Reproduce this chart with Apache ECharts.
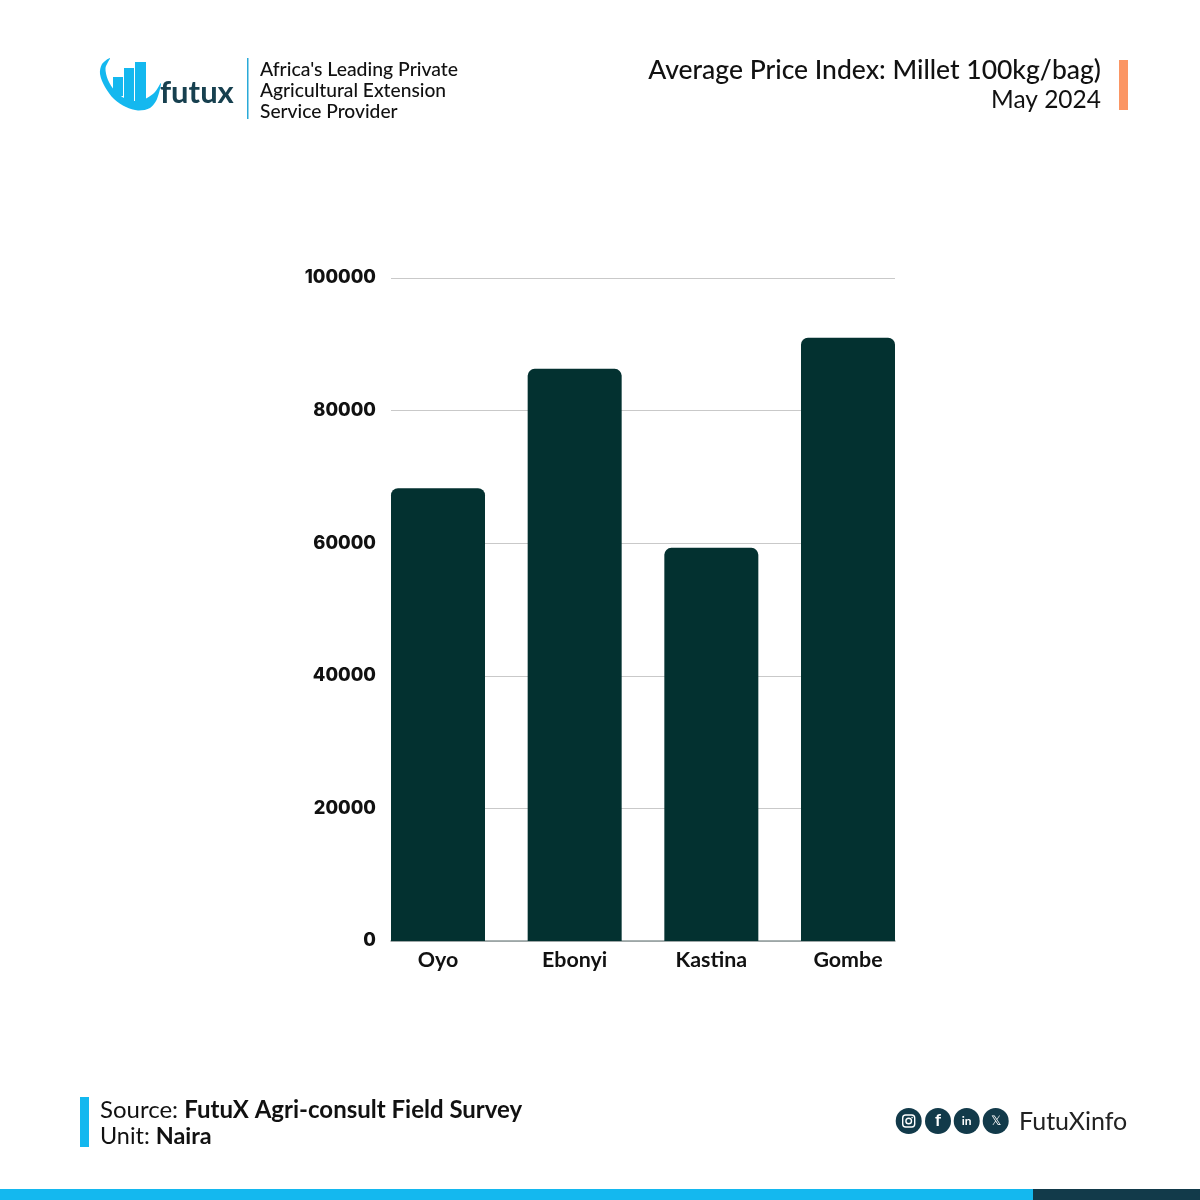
<!DOCTYPE html>
<html>
<head>
<meta charset="utf-8">
<style>html,body{margin:0;padding:0;background:#fff}#chart{width:1200px;height:1200px}</style>
<script src="https://cdn.jsdelivr.net/npm/echarts@6/dist/echarts.min.js"></script>
</head>
<body>
<div id="chart"></div>
<script>
// Average millet price per 100kg bag by state, May 2024 (Naira)
const states = ['Oyo', 'Ebonyi', 'Kastina', 'Gombe'];
const prices = [68300, 86300, 59300, 91000];
const axisMax = 100000;
const axisStep = 20000;

const FONT = 'Lato, "Open Sans", sans-serif';
const INK = '#111111';
const TEAL = '#033130';
const NAVY = '#123a4a';
const SKY = '#14b8ef';

const chart = echarts.init(document.getElementById('chart'), null, {renderer: 'canvas'});

function label(x, y, text, opts) {
  return {type: 'text', x, y, silent: true, style: Object.assign({
    text, fontFamily: FONT, fontSize: 20, fill: INK, verticalAlign: 'middle', align: 'left'
  }, opts || {})};
}
function block(x, y, width, height, fill) {
  return {type: 'rect', silent: true, shape: {x, y, width, height}, style: {fill}};
}
function disc(cx) {
  return {type: 'circle', silent: true, shape: {cx, cy: 1121, r: 13}, style: {fill: NAVY}};
}
function badge(cx, text, size, weight) {
  return [disc(cx), label(cx, 1121, text, {fill: '#ffffff', fontSize: size, fontWeight: weight, align: 'center'})];
}
// Camera outline for the Instagram badge
function cameraBadge(cx) {
  const cy = 1121;
  const line = {fill: 'none', stroke: '#ffffff', lineWidth: 1.4};
  return [
    disc(cx),
    {type: 'rect', silent: true, shape: {x: cx - 6, y: cy - 6, width: 12, height: 12, r: 3}, style: line},
    {type: 'circle', silent: true, shape: {cx, cy, r: 2.8}, style: line},
    {type: 'circle', silent: true, shape: {cx: cx + 3.4, cy: cy - 3.4, r: 0.8}, style: {fill: '#ffffff'}}
  ];
}

function textRuns(size) {
  return {
    n: {fontFamily: FONT, fontSize: size, fontWeight: 400, fill: INK},
    b: {fontFamily: FONT, fontSize: size, fontWeight: 700, fill: INK}
  };
}

const swooshOutline = [
  [110, 58], [102, 64], [100, 74], [105, 87], [114, 99], [126, 107], [138, 110.5], [150, 108], [157, 99], [161, 83],
  [155, 92], [147, 98], [138, 101], [126, 99], [115, 91], [108, 80], [105.5, 68]
];

const decorations = [
  // brand mark
  {type: 'polygon', silent: true, shape: {points: swooshOutline, smooth: 0.3}, style: {fill: SKY}},
  block(113, 77, 10, 19, SKY),
  block(124, 68, 10, 33, SKY),
  block(135, 62, 11, 40, SKY),
  label(160, 93, 'futux', {fontSize: 31, fontWeight: 700, fill: '#17404f'}),
  block(247, 58, 1.5, 61, '#2aaad8'),
  label(260, 70, "Africa's Leading Private", {fontSize: 19.4, fontWeight: 500}),
  label(260, 91, 'Agricultural Extension', {fontSize: 19.2, fontWeight: 500}),
  label(260, 112, 'Service Provider', {fontSize: 19.2, fontWeight: 500}),

  // heading
  label(1101, 70, 'Average Price Index: Millet 100kg/bag)', {fontSize: 26.5, fontWeight: 500, align: 'right'}),
  label(1101, 100, 'May 2024', {fontSize: 24.5, align: 'right'}),
  block(1119, 60, 9, 50, '#fb9664'),

  // source note
  block(80, 1097, 9, 50, SKY),
  label(100, 1110, '{n|Source: }{b|FutuX Agri-consult Field Survey}', {rich: textRuns(24)}),
  label(100, 1136, '{n|Unit: }{b|Naira}', {rich: textRuns(23.4)}),

  // social handles
  ...cameraBadge(908.7),
  ...badge(938, 'f', 17, 700),
  ...badge(966.7, 'in', 12, 700),
  ...badge(995.7, '𝕏', 13, 400),
  label(1019, 1122, 'FutuXinfo', {fontSize: 25, fill: '#222222'}),

  // footer strip
  block(0, 1189, 1033, 11, SKY),
  block(1033, 1189, 167, 11, NAVY)
];

chart.setOption({
  animation: false,
  backgroundColor: '#ffffff',
  // Rules and value labels sit on the narrow grid; the bars use a wider one
  // so the outer bars end flush with the rules.
  grid: [
    {left: 391, top: 278, width: 504, height: 663},
    {left: 369.67, top: 278, width: 546.66, height: 663}
  ],
  xAxis: [
    {gridIndex: 0, type: 'category', data: states,
      axisLine: {show: true, lineStyle: {color: '#8f9a9a', width: 1.5}},
      axisTick: {show: false}, axisLabel: {show: false}},
    {gridIndex: 1, type: 'category', data: states,
      axisLine: {show: false}, axisTick: {show: false},
      axisLabel: {margin: 9, fontFamily: FONT, fontSize: 21.4, fontWeight: 700, color: INK}}
  ],
  yAxis: [
    {gridIndex: 0, type: 'value', min: 0, max: axisMax, interval: axisStep,
      axisLine: {show: false}, axisTick: {show: false},
      axisLabel: {
        margin: 15, fontFamily: 'Inter, Lato, sans-serif', fontSize: 18.3, fontWeight: 800, color: INK,
        padding: [2, 0, 0, 0],
        formatter: value => String(value)
      },
      splitLine: {lineStyle: {color: '#c9c9c9', width: 1.2}}},
    {gridIndex: 1, type: 'value', min: 0, max: axisMax, interval: axisStep, show: false,
      splitLine: {show: false}}
  ],
  series: [{
    type: 'bar', xAxisIndex: 1, yAxisIndex: 1, data: prices, barWidth: 94,
    itemStyle: {color: TEAL, borderRadius: [7, 7, 0, 0]}
  }],
  graphic: {elements: decorations}
});
</script>
</body>
</html>
